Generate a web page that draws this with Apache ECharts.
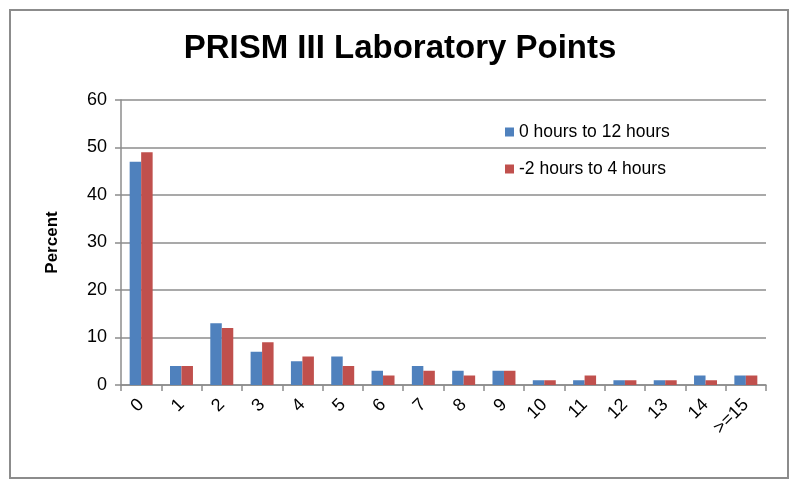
<!DOCTYPE html>
<html><head><meta charset="utf-8">
<script src="https://cdn.jsdelivr.net/npm/echarts@6/dist/echarts.min.js"></script>
<style>html,body{margin:0;padding:0;background:#fff}#c{width:800px;height:489px}</style>
</head><body><div id="c"></div>
<script>
const categories = ['0','1','2','3','4','5','6','7','8','9','10','11','12','13','14','>=15'];
const series0to12 = [47,4,13,7,5,6,3,4,3,3,1,1,1,1,2,2];
const seriesMinus2to4 = [49,4,12,9,6,4,2,3,2,3,1,2,1,1,1,2];
const yTicks = [0,10,20,30,40,50,60];
const seriesNames = ['0 hours to 12 hours','-2 hours to 4 hours'];

const FONT = '"Liberation Sans", Arial, sans-serif';
const chart = echarts.init(document.getElementById('c'), null, {renderer:'canvas'});
chart.setOption({
  animation:false,
  backgroundColor:'#fff',
  graphic:[{type:'rect',shape:{x:10,y:10,width:778,height:468},style:{fill:'none',stroke:'#8c8c8c',lineWidth:2},z:-1}],
  title:{text:'PRISM III Laboratory Points',left:'center',top:27,
    textStyle:{fontFamily:FONT,fontWeight:'bold',fontSize:33,color:'#000'}},
  legend:{orient:'vertical',left:500,top:118,itemWidth:9,itemHeight:9,itemGap:19,
    icon:'rect',textStyle:{fontFamily:FONT,fontSize:17.5,color:'#000'},data:seriesNames},
  grid:{left:121,right:34,top:100,bottom:104,containLabel:false},
  xAxis:{type:'category',data:categories,
    axisLine:{lineStyle:{color:'#8c8c8c',width:1.5}},
    axisTick:{show:true,length:6,alignWithLabel:false,lineStyle:{color:'#8c8c8c',width:1.5}},
    axisLabel:{rotate:45,fontFamily:FONT,fontSize:18,color:'#000',margin:17,interval:0}},
  yAxis:{type:'value',min:0,max:60,interval:10,
    name:'Percent',nameLocation:'middle',nameGap:60,
    nameTextStyle:{fontFamily:FONT,fontWeight:'bold',fontSize:17,color:'#000'},
    axisLine:{show:true,lineStyle:{color:'#8c8c8c',width:1.5}},
    axisTick:{show:true,length:6,lineStyle:{color:'#8c8c8c',width:1.5}},
    axisLabel:{fontFamily:FONT,fontSize:18,color:'#000',margin:14,
      formatter:v=>yTicks.includes(v)?String(v):''},
    splitLine:{lineStyle:{color:'#8c8c8c',width:1.5}}},
  series:[
    {name:seriesNames[0],type:'bar',data:series0to12,itemStyle:{color:'#4F81BD'},barGap:'0%',barCategoryGap:'43%'},
    {name:seriesNames[1],type:'bar',data:seriesMinus2to4,itemStyle:{color:'#C0504D'},barGap:'0%',barCategoryGap:'43%'}
  ]
});
</script></body></html>
